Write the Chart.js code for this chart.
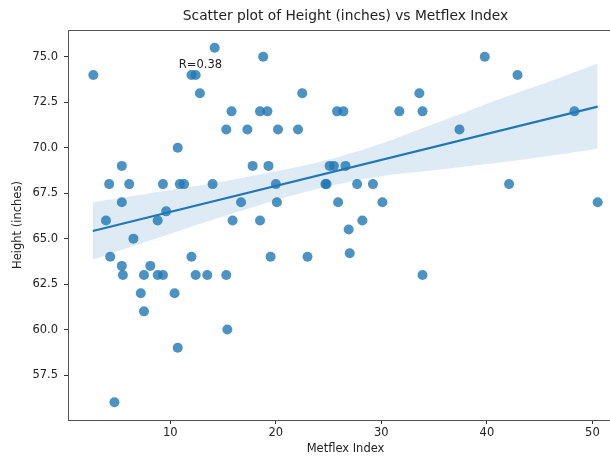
<!DOCTYPE html>
<html lang="en">
<head>
    <meta charset="UTF-8">
    <title>Height vs Metflex Index</title>
    <script src="https://cdn.jsdelivr.net/npm/chart.js"></script>
    <style>
        body { margin: 0; background: #fff; overflow: hidden; }
        #wrap { width: 630px; height: 456px; }
    </style>
</head>
<body>
    <div id="wrap"><canvas id="scatterChart" width="630" height="456"></canvas></div>

    <script>
        // Metflex index and height of each subject
        const metflex = [
            2.7, 14.2, 12.0, 12.4, 12.8, 15.8, 18.5, 15.3, 17.3, 10.7,
            5.4, 4.2, 6.1, 9.3, 10.9, 11.3, 14.0, 17.8, 5.4, 16.7,
            9.6, 3.9, 8.8, 15.9, 18.5, 6.5, 4.3, 5.4, 5.5, 7.5,
            8.1, 8.8, 9.3, 7.2, 7.5, 10.4, 12.0, 12.4, 13.5, 15.3,
            15.4, 10.7, 4.7, 18.8, 22.5, 19.2, 25.8, 26.4, 31.7, 33.9,
            33.6, 20.2, 22.1, 19.3, 25.1, 25.5, 26.6, 20.0, 24.7, 24.8,
            27.7, 29.2, 20.1, 25.9, 30.1, 28.2, 26.9, 19.5, 23.0, 27.0,
            33.9, 39.8, 42.9, 37.4, 48.3, 42.1, 50.5
        ];
        const height = [
            74, 75.5, 74, 74, 73, 72, 72, 71, 71, 70,
            69, 68, 68, 68, 68, 68, 68, 69, 67, 67,
            66.5, 66, 66, 66, 66, 65, 64, 63.5, 63, 63,
            63.5, 63, 63, 62, 61, 62, 64, 63, 63, 63,
            60, 59, 56, 75, 73, 72, 72, 72, 72, 72,
            73, 71, 71, 69, 69, 69, 69, 68, 68, 68,
            68, 68, 67, 67, 67, 66, 65.5, 64, 64, 64.2,
            63, 75, 74, 71, 72, 68, 67
        ];

        // fitted regression line and its confidence band
        const fitX = [2.65, 50.5];
        const fitY = [65.42, 72.26];
        const bandX = [2.65, 6, 10, 14, 17.6, 22, 26, 30, 34, 38, 42, 46, 50.5];
        const bandUpper = [67.00, 67.30, 67.67, 68.04, 68.43, 68.94, 69.51, 70.23, 71.10, 71.97, 72.84, 73.66, 74.63];
        const bandLower = [63.84, 64.50, 65.27, 66.04, 66.69, 67.44, 68.01, 68.43, 68.70, 68.97, 69.24, 69.56, 69.95];

        const xTicks = [10, 20, 30, 40, 50];
        const yTicks = [57.5, 60, 62.5, 65, 67.5, 70, 72.5, 75];
        const rText = 'R=0.38';
        const rPos = { x: 10.8, y: 74.4 };

        const blue = '#1f77b4';
        const textColor = '#222';
        const font = 'DejaVu Sans';

        const toPoints = (xs, ys) => xs.map((x, i) => ({ x: x, y: ys[i] }));

        // draws the title, R annotation and the box around the plot
        const decorations = {
            id: 'decorations',
            afterDraw(chart) {
                const { ctx, chartArea, scales } = chart;
                ctx.save();
                ctx.strokeStyle = '#555';
                ctx.lineWidth = 1;
                ctx.strokeRect(chartArea.left + 0.5, chartArea.top + 0.5,
                    chartArea.right - chartArea.left - 1, chartArea.bottom - chartArea.top);

                ctx.fillStyle = textColor;
                ctx.font = '13.8px "' + font + '"';
                ctx.textAlign = 'center';
                ctx.textBaseline = 'middle';
                ctx.fillText('Scatter plot of Height (inches) vs Metflex Index',
                    (chartArea.left + chartArea.right) / 2, 16);

                ctx.font = '11.5px "' + font + '"';
                ctx.textAlign = 'left';
                ctx.textBaseline = 'alphabetic';
                ctx.fillText(rText, scales.x.getPixelForValue(rPos.x), scales.y.getPixelForValue(rPos.y));
                ctx.restore();
            }
        };

        const axisFont = { family: font, size: 11.5 };

        new Chart(document.getElementById('scatterChart'), {
            type: 'scatter',
            data: {
                datasets: [
                    {
                        data: toPoints(metflex, height),
                        backgroundColor: 'rgba(31, 119, 180, 0.8)',
                        borderWidth: 0,
                        pointRadius: 5,
                        order: 4
                    },
                    {
                        data: toPoints(bandX, bandUpper),
                        showLine: true,
                        borderWidth: 0,
                        pointRadius: 0,
                        tension: 0.4,
                        fill: '+1',
                        backgroundColor: 'rgba(31, 119, 180, 0.15)',
                        order: 3
                    },
                    {
                        data: toPoints(bandX, bandLower),
                        showLine: true,
                        borderWidth: 0,
                        pointRadius: 0,
                        tension: 0.4,
                        order: 2
                    },
                    {
                        data: toPoints(fitX, fitY),
                        showLine: true,
                        borderColor: blue,
                        borderWidth: 2.2,
                        pointRadius: 0,
                        order: 1
                    }
                ]
            },
            options: {
                responsive: false,
                animation: false,
                layout: { padding: { top: 30, right: 7, left: 0, bottom: 0 } },
                plugins: {
                    legend: { display: false },
                    tooltip: { enabled: false }
                },
                scales: {
                    x: {
                        type: 'linear',
                        min: 0.3,
                        max: 52.9,
                        afterBuildTicks: s => { s.ticks = xTicks.map(v => ({ value: v })); },
                        afterFit: s => { s.height = 36; },
                        border: { display: false },
                        grid: { drawOnChartArea: false, drawTicks: true, tickLength: 4, color: '#333' },
                        ticks: { color: textColor, font: axisFont, padding: 2, maxRotation: 0 },
                        title: { display: true, text: 'Metflex Index', color: textColor, font: axisFont, padding: { top: 0, bottom: 0 } }
                    },
                    y: {
                        type: 'linear',
                        min: 55.025,
                        max: 76.475,
                        afterBuildTicks: s => { s.ticks = yTicks.map(v => ({ value: v })); },
                        afterFit: s => { s.width = 68; },
                        border: { display: false },
                        grid: { drawOnChartArea: false, drawTicks: true, tickLength: 4, color: '#333' },
                        ticks: { color: textColor, font: axisFont, padding: 6, callback: v => v.toFixed(1) },
                        title: { display: true, text: 'Height (inches)', color: textColor, font: axisFont, padding: { top: 11, bottom: 0 } }
                    }
                }
            },
            plugins: [decorations]
        });
    </script>
</body>
</html>
